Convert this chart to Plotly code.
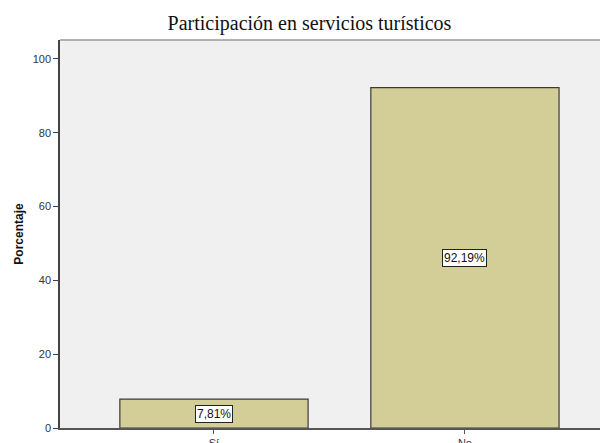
import plotly.graph_objects as go

categories = ["Sí", "No"]
values = [7.81, 92.19]
tick_vals = [0, 20, 40, 60, 80, 100]
tick_text = ["0", "20", "40", "60", "80", "100"]

labels = [f"{v:.2f}".replace(".", ",") + "%" for v in values]

fig = go.Figure()
fig.add_trace(go.Bar(
    x=categories, y=values, width=0.75,
    marker=dict(color="#D3CE97", line=dict(color="#3a3a3a", width=1.2)),
    hoverinfo="skip",
))

for c, v, t in zip(categories, values, labels):
    fig.add_annotation(x=c, y=v / 2, text=t, showarrow=False,
                       font=dict(family="Arial, Liberation Sans", size=12, color="#111"),
                       bgcolor="white", bordercolor="#222", borderwidth=1, borderpad=1)

fig.update_layout(
    width=600, height=435,
    margin=dict(l=52, r=0, t=32, b=15, autoexpand=False),
    paper_bgcolor="white", plot_bgcolor="#F0F0F0",
    showlegend=False,
    title=dict(text="Participación en servicios turísticos", x=0.5025, xanchor="center",
               y=0.9655, yanchor="middle",
               font=dict(family="Liberation Serif, Times New Roman", size=20, color="#111")),
    xaxis=dict(type="category", range=[-0.6135, 1.57], showgrid=False, automargin=False,
               showline=True, linecolor="#555", linewidth=1.5,
               ticks="outside", ticklen=4, tickcolor="#555",
               tickfont=dict(family="Arial, Liberation Sans", size=11, color="#333")),
    yaxis=dict(range=[0, 105.1], tickvals=tick_vals, ticktext=tick_text, showgrid=False,
               automargin=False,
               showline=True, linecolor="#444", linewidth=1.5, zeroline=False,
               ticks="outside", ticklen=5, tickcolor="#444",
               tickfont=dict(family="Arial, Liberation Sans", size=11, color="#333"),
               title=dict(text="<b>Porcentaje</b>", standoff=6,
                          font=dict(family="Arial, Liberation Sans", size=12, color="#111"))),
    shapes=[dict(type="line", xref="paper", yref="paper", x0=0, x1=1, y0=1, y1=1,
                 line=dict(color="#999", width=1.5))],
)

fig.write_html("out.html")
